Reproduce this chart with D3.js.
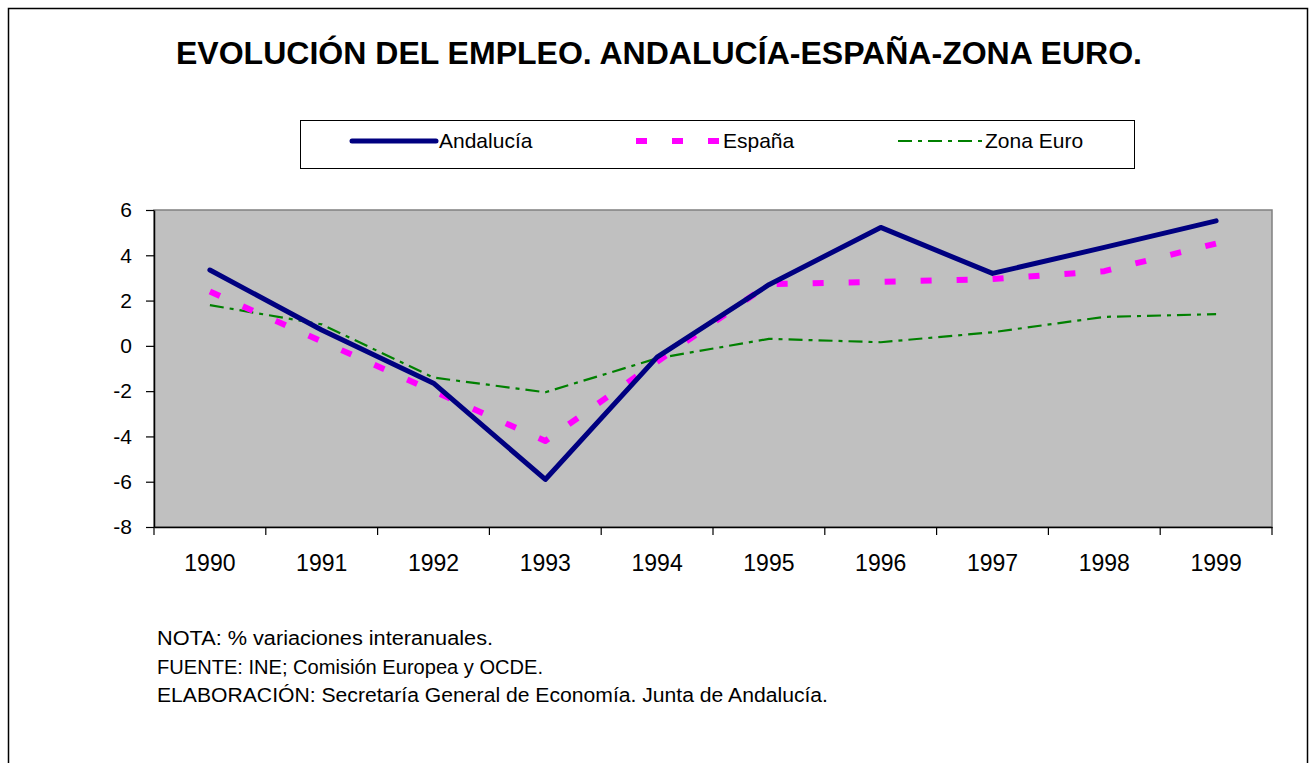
<!DOCTYPE html>
<html>
<head>
<meta charset="utf-8">
<script src="https://cdn.jsdelivr.net/npm/d3@7"></script>
<style>
  body { margin: 0; background: #fff; }
  text { font-family: Arial, "Liberation Sans", sans-serif; fill: #000; }
</style>
</head>
<body>
<svg id="chart" width="1315" height="763"></svg>
<script>
// data (% interannual change)
const years = ['1990', '1991', '1992', '1993', '1994', '1995', '1996', '1997', '1998', '1999'];
const andalucia = [3.35, 0.7, -1.65, -5.9, -0.5, 2.7, 5.23, 3.2, 4.35, 5.52];
const espana = [2.4, 0.2, -2.0, -4.2, -0.7, 2.72, 2.83, 2.95, 3.3, 4.52];
const zonaEuro = [1.8, 0.95, -1.4, -2.05, -0.55, 0.31, 0.16, 0.6, 1.28, 1.4];
const yTicks = [-8, -6, -4, -2, 0, 2, 4, 6];
const seriesNames = ['Andalucía', 'España', 'Zona Euro'];
const notes = [
  'NOTA: % variaciones interanuales.',
  'FUENTE: INE; Comisión Europea y OCDE.',
  'ELABORACIÓN: Secretaría General de Economía. Junta de Andalucía.'
];

const svg = d3.select('#chart');
const plot = { left: 154, right: 1272, top: 210, bottom: 527 };

// outer frame
svg.append('rect')
  .attr('x', 8.5).attr('y', 8.5)
  .attr('width', 1299).attr('height', 800)
  .attr('fill', 'none').attr('stroke', '#000').attr('stroke-width', 1.5);

svg.append('text')
  .attr('x', 176).attr('y', 64)
  .attr('textLength', 966)
  .attr('lengthAdjust', 'spacingAndGlyphs')
  .style('font-size', '31px').style('font-weight', 'bold')
  .text('EVOLUCIÓN DEL EMPLEO. ANDALUCÍA-ESPAÑA-ZONA EURO.');

const x = d3.scaleBand()
  .domain(years)
  .range([plot.left, plot.right]);

const y = d3.scaleLinear()
  .domain([-8, 6])
  .range([plot.bottom, plot.top]);

// plot area
svg.append('rect')
  .attr('x', plot.left).attr('y', plot.top)
  .attr('width', plot.right - plot.left).attr('height', plot.bottom - plot.top)
  .attr('fill', '#c0c0c0').attr('stroke', '#808080').attr('stroke-width', 1.5);

// y axis
const yAxis = svg.append('g')
  .attr('transform', `translate(${plot.left},0)`)
  .call(d3.axisLeft(y).tickValues(yTicks).tickFormat(d => String(d))
    .tickSize(8).tickPadding(14).tickSizeOuter(0));
yAxis.select('.domain').attr('stroke', '#000').attr('stroke-width', 1.5);
yAxis.selectAll('line').attr('stroke', '#000').attr('stroke-width', 1.2);
yAxis.selectAll('text').style('font-size', '21px').attr('fill', '#000');

// x axis: labels centred in bands, ticks on band boundaries
const xAxis = svg.append('g')
  .attr('transform', `translate(0,${plot.bottom})`)
  .call(d3.axisBottom(x).tickSize(0).tickPadding(28).tickSizeOuter(0));
xAxis.select('.domain').attr('stroke', '#000').attr('stroke-width', 1.5);
xAxis.selectAll('text').style('font-size', '23px').attr('fill', '#000');
xAxis.selectAll('.sep')
  .data(years.map(d => x(d)).concat([x.range()[1]]))
  .enter().append('line')
    .attr('class', 'sep')
    .attr('x1', d => d).attr('x2', d => d)
    .attr('y1', 0).attr('y2', 8)
    .attr('stroke', '#000').attr('stroke-width', 1.2);

const line = d3.line()
  .x((d, i) => x(years[i]) + x.bandwidth() / 2)
  .y(d => y(d));

const styles = [
  { data: andalucia, color: '#000080', width: 5, dash: null, cap: 'round' },
  { data: espana, color: '#ff00ff', width: 6, dash: '11,25', cap: 'butt' },
  { data: zonaEuro, color: '#008000', width: 2.2, dash: '14,6,4,6', cap: 'butt' }
];

// draw back to front: euro, españa, andalucía
[2, 1, 0].forEach(i => {
  const s = styles[i];
  svg.append('path')
    .datum(s.data)
    .attr('d', line)
    .attr('fill', 'none')
    .attr('stroke', s.color)
    .attr('stroke-width', s.width)
    .attr('stroke-linejoin', 'round')
    .attr('stroke-linecap', s.cap)
    .attr('stroke-dasharray', s.dash);
});

// legend
const legend = svg.append('g');
legend.append('rect')
  .attr('x', 300.5).attr('y', 120.5)
  .attr('width', 834).attr('height', 48)
  .attr('fill', '#fff').attr('stroke', '#000').attr('stroke-width', 1);

const legendX = [352, 636, 898];
seriesNames.forEach((name, i) => {
  const s = styles[i];
  legend.append('line')
    .attr('x1', legendX[i]).attr('x2', legendX[i] + 84)
    .attr('y1', 141).attr('y2', 141)
    .attr('stroke', s.color)
    .attr('stroke-width', s.width)
    .attr('stroke-linecap', s.cap)
    .attr('stroke-dasharray', s.dash);
  legend.append('text')
    .attr('x', legendX[i] + 87).attr('y', 148)
    .style('font-size', '21px')
    .text(name);
});

// notes
const noteWidths = [336, 386, 671];
svg.selectAll('.note')
  .data(notes)
  .enter().append('text')
    .attr('class', 'note')
    .attr('x', 157)
    .attr('y', (d, i) => 645 + i * 28.5)
    .attr('textLength', (d, i) => noteWidths[i])
    .attr('lengthAdjust', 'spacingAndGlyphs')
    .style('font-size', '20px')
    .text(d => d);
</script>
</body>
</html>
